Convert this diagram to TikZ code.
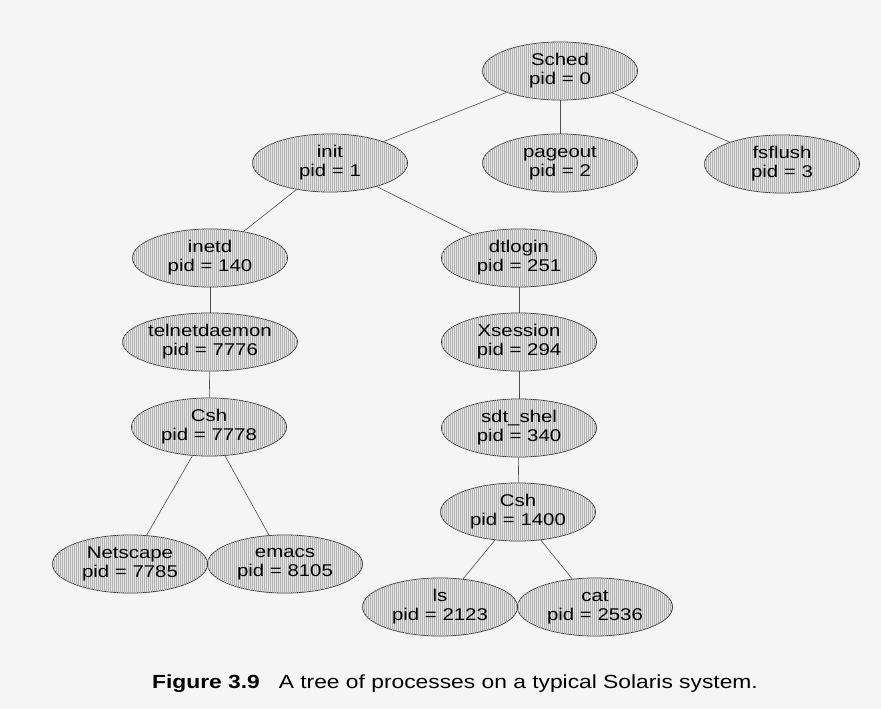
\documentclass[tikz,border=0pt]{standalone}
\usepackage{fontspec}
\setmainfont{Liberation Sans}[FakeStretch=1.2]
\usetikzlibrary{shapes.geometric,patterns.meta}

\begin{document}
\begin{tikzpicture}[
    % styles
    x=1pt, y=-1pt,
    draw=black!75,
    proc/.style={ellipse, draw=black!80, line width=0.8pt,
        fill=black!10,
        postaction={pattern={Lines[angle=90,distance=2pt,line width=0.55pt]}, pattern color=black!30},
        minimum width=155pt, minimum height=58pt, inner sep=0pt,
        align=center, font=\fontsize{17}{19}\selectfont},
    link/.style={line width=0.6pt, draw=black!70},
    caption/.style={font=\fontsize{19}{21}\selectfont}
]

    % --- 0. page ---
    \path[fill=black!4, use as bounding box] (0,0) rectangle (881,709);

    % --- 1. processes: pid / x / y / name ---
    \foreach \pid / \x / \y / \proc in {
        0/560/71/Sched, 1/330/163/init, 2/560/163/pageout, 3/782/164/fsflush,
        140/210/258/inetd, 251/519/258/dtlogin,
        7776/210/342/telnetdaemon, 294/519/342/Xsession,
        7778/209/427/Csh, 340/519/428/sdt\_shel,
        1400/518/512/Csh,
        7785/130/564/Netscape, 8105/285/564/emacs,
        2123/440/607/ls, 2536/595/607/cat}
        \node[proc] (P-\pid) at (\x,\y) {\proc\\pid = \pid};

    % --- 2. parent -> child ---
    \foreach \parent / \child in {0/1, 0/2, 0/3, 1/140, 1/251,
        140/7776, 7776/7778, 7778/7785, 7778/8105,
        251/294, 294/340, 340/1400, 1400/2123, 1400/2536}
        \draw[link] (P-\parent) -- (P-\child);

    % --- 3. caption ---
    \node[caption] (cap) at (455,684) {\textbf{Figure 3.9}\quad A tree of processes on a typical Solaris system.};

\end{tikzpicture}
\end{document}
